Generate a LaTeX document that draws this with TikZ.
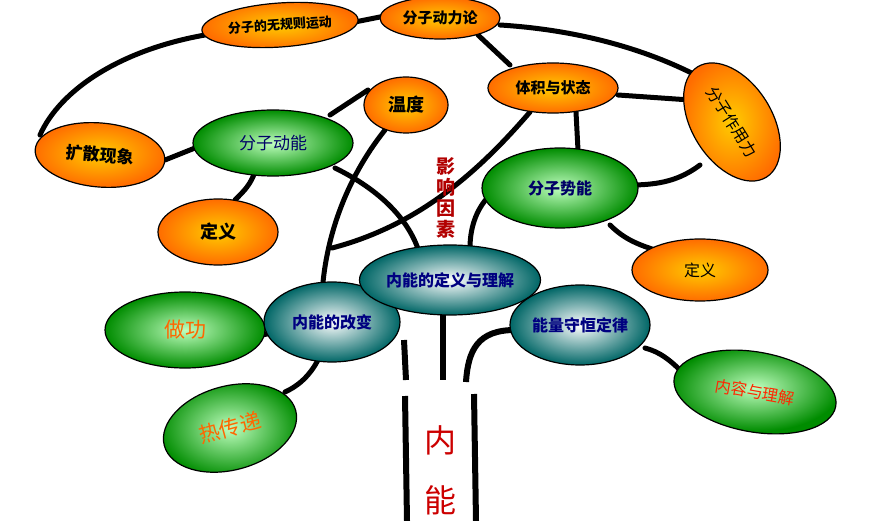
\documentclass[tikz,border=0pt]{standalone}
\usepackage{fontspec}
\newfontfamily\cjk{Noto Sans CJK SC}
\usetikzlibrary{shapes.geometric}
\tikzset{
  orangebub/.style={ellipse,draw=black,line width=1.2pt,inner color=yellow!60!orange,outer color=orange!85!red,font=\cjk\bfseries\fontsize{15}{15}\selectfont,text=black},
  greenbub/.style={ellipse,draw=black,line width=1.2pt,inner color=green!25!white,outer color=green!55!black,font=\cjk\bfseries\fontsize{16}{16}\selectfont,text=blue!40!black},
  tealbub/.style={ellipse,draw=black,line width=1.2pt,inner color=white,outer color=teal!80!black,font=\cjk\bfseries\fontsize{16}{16}\selectfont,text=blue!50!black},
  branch/.style={line width=5pt,line cap=round},
}
\begin{document}
\begin{tikzpicture}[x=1pt,y=-1pt]
\useasboundingbox (0,0) rectangle (870,521);

% connectors first
\draw[branch] (205,35) .. controls (120,50) and (60,90) .. (40,135);
\draw[branch] (355,22) -- (385,16);
\draw[branch] (478,35) -- (510,65);
\draw[branch] (500,25) .. controls (580,30) and (650,50) .. (705,80);
\draw[branch] (618,95) -- (690,100);
\draw[branch] (368,90) -- (330,115);
\draw[branch] (165,160) -- (195,148);
\draw[branch] (255,172) .. controls (250,185) and (245,190) .. (235,200);
\draw[branch] (385,130) .. controls (345,180) and (325,240) .. (322,295);
\draw[branch] (335,168) .. controls (380,190) and (410,220) .. (420,255);
\draw[branch] (530,112) .. controls (480,170) and (420,225) .. (332,248);
\draw[branch] (576,112) -- (578,150);
\draw[branch] (490,195) .. controls (475,210) and (470,230) .. (470,248);
\draw[branch] (700,165) .. controls (680,180) and (660,185) .. (630,185);
\draw[branch] (610,225) .. controls (625,240) and (640,245) .. (655,250);
\draw[branch] (262,335) -- (272,333);
\draw[branch] (285,392) .. controls (300,385) and (310,375) .. (318,360);
\draw[branch] (645,348) .. controls (660,352) and (670,360) .. (682,372);
% trunk
\draw[line width=6pt] (404,340) -- (406,380);
\draw[line width=6pt] (405,396) -- (407,521);
\draw[line width=6pt] (443,310) -- (443,380);
\draw[line width=6pt] (466,382) .. controls (468,350) and (478,330) .. (515,330);
\draw[line width=6pt] (474,394) -- (476,521);

% bubbles
\node[orangebub,minimum width=155pt,minimum height=44pt,rotate=4,font=\cjk\bfseries\fontsize{13}{13}\selectfont] (random) at (280,25) {分子的无规则运动};
\node[orangebub,minimum width=120pt,minimum height=42pt] (theory) at (440,18) {分子动力论};
\node[orangebub,minimum width=130pt,minimum height=50pt] (volume) at (553,88) {体积与状态};
\node[orangebub,minimum width=130pt,minimum height=80pt,rotate=-58,font=\cjk\fontsize{16}{16}\selectfont] (force) at (732,122) {分子作用力};
\node[orangebub,minimum width=84pt,minimum height=56pt,font=\cjk\bfseries\fontsize{18}{18}\selectfont] (temp) at (406,105) {温度};
\node[greenbub,minimum width=160pt,minimum height=66pt,font=\cjk\fontsize{17}{17}\selectfont] (kinetic) at (273,143) {分子动能};
\node[orangebub,minimum width=130pt,minimum height=64pt,rotate=-5,font=\cjk\bfseries\fontsize{17}{17}\selectfont] (diffuse) at (100,155) {扩散现象};
\node[orangebub,minimum width=120pt,minimum height=66pt,font=\cjk\bfseries\fontsize{18}{18}\selectfont] (defl) at (218,232) {定义};
\node[greenbub,minimum width=156pt,minimum height=80pt] (potential) at (560,188) {分子势能};
\node[orangebub,minimum width=136pt,minimum height=62pt,font=\cjk\fontsize{16}{16}\selectfont] (defr) at (700,270) {定义};
\node[greenbub,minimum width=160pt,minimum height=76pt,text=orange!80!red,font=\cjk\fontsize{21}{21}\selectfont] (work) at (185,330) {做功};
\node[greenbub,minimum width=136pt,minimum height=84pt,rotate=15,text=orange!80!red,font=\cjk\fontsize{21}{21}\selectfont] (heat) at (230,428) {热传递};
\node[greenbub,minimum width=164pt,minimum height=80pt,rotate=-10,text=red!70!orange,font=\cjk\fontsize{16}{16}\selectfont] (content) at (755,392) {内容与理解};
\node[tealbub,minimum width=136pt,minimum height=80pt,inner sep=1pt] (change) at (332,322) {内能的改变};
\node[tealbub,minimum width=140pt,minimum height=80pt,inner sep=1pt] (conserve) at (580,325) {能量守恒定律};
\node[tealbub,minimum width=176pt,minimum height=70pt,inner sep=0pt] (meaning) at (450,280) {内能的定义与理解};

% labels
\node[text=red!70!black,font=\cjk\bfseries\fontsize{19}{21}\selectfont,align=center] (factor) at (446,198) {影\\响\\因\\素};
\node[text=red!80!black,font=\cjk\fontsize{32}{32}\selectfont] (nei) at (440,440) {内};
\node[text=red!80!black,font=\cjk\fontsize{32}{32}\selectfont] (neng) at (440,500) {能};
\end{tikzpicture}
\end{document}
